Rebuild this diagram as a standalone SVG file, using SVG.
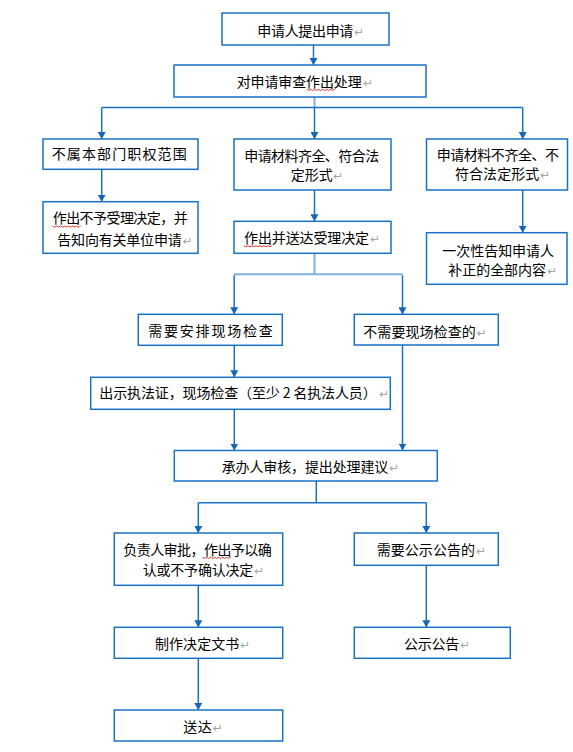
<svg xmlns="http://www.w3.org/2000/svg" width="573" height="752" viewBox="0 0 573 752">
<style>
.box{fill:#fff;stroke:#1a72c4;stroke-width:1.5}
.t{font-family:"Noto Sans CJK SC","Noto Sans CJK JP",sans-serif;font-size:14px;fill:#000}
.r{font-family:"DejaVu Sans",sans-serif;font-size:12px;fill:#a6a6a6}
.ln{fill:none;stroke:#1a72c4;stroke-width:1.5}
.lt{fill:none;stroke:#7fb1de;stroke-width:2}
.w{fill:none;stroke:#e0241b;stroke-width:0.9}
</style>
<defs>
<marker id="ah" viewBox="0 -4 7 8" refX="7" refY="0" markerWidth="7" markerHeight="8" markerUnits="userSpaceOnUse" orient="auto">
<path d="M0,-4 L7,0 L0,4 z" fill="#1565b8"/>
</marker>
</defs>
<rect width="573" height="752" fill="#fff"/>
<g id="connectors">
<path class="ln" d="M313.5,45 V65" marker-end="url(#ah)"/>
<path class="lt" d="M314.5,97 V107.5"/>
<path class="ln" d="M101.7,107.5 H522.7"/>
<path class="ln" d="M101.7,107.5 V139" marker-end="url(#ah)"/>
<path class="ln" d="M314.5,107.5 V139" marker-end="url(#ah)"/>
<path class="ln" d="M522.7,107.5 V139" marker-end="url(#ah)"/>
<path class="ln" d="M101.7,169.3 V201.7" marker-end="url(#ah)"/>
<path class="ln" d="M314.5,190 V221.3" marker-end="url(#ah)"/>
<path class="ln" d="M522.7,190 V232.7" marker-end="url(#ah)"/>
<path class="lt" d="M314.5,253.3 V274.3 M234,274.3 H402.7"/>
<path class="ln" d="M234.2,275.3 V314.3" marker-end="url(#ah)"/>
<path class="ln" d="M402.5,275.3 V314.3" marker-end="url(#ah)"/>
<path class="ln" d="M234.3,345.3 V377.3" marker-end="url(#ah)"/>
<path class="ln" d="M234.3,409.3 V450.5" marker-end="url(#ah)"/>
<path class="ln" d="M402.5,345 V450.5" marker-end="url(#ah)"/>
<path class="ln" d="M316.3,481 V502.7 M198.3,502.7 H426.3"/>
<path class="ln" d="M198.3,502.7 V533" marker-end="url(#ah)"/>
<path class="ln" d="M426.3,502.7 V533" marker-end="url(#ah)"/>
<path class="ln" d="M198.3,585.3 V627.3" marker-end="url(#ah)"/>
<path class="ln" d="M426.3,565.3 V627.3" marker-end="url(#ah)"/>
<path class="ln" d="M198.3,658.3 V710" marker-end="url(#ah)"/>
</g>
<g id="n1"><rect class="box" x="222" y="13" width="167" height="32"/><text class="t" x="257.3" y="35.7" textLength="96" lengthAdjust="spacing">申请人提出申请</text><text class="r" x="354" y="35.5">↵</text></g>
<g id="n2"><rect class="box" x="174" y="65" width="252" height="32"/><text class="t" x="236.7" y="86.7" textLength="125" lengthAdjust="spacing">对申请审查作出处理</text><text class="r" x="363" y="86.5">↵</text><path class="w" d="M306.7,89.3 l2,1.2 l2,-1.2 l2,1.2 l2,-1.2 l2,1.2 l2,-1.2 l2,1.2 l2,-1.2 l2,1.2 l2,-1.2 l2,1.2 l2,-1.2 l2,1.2 l2,-1.2"/></g>
<g id="n3"><rect class="box" x="43" y="139" width="155" height="30.3"/><text class="t" x="51.7" y="159.3" textLength="135" lengthAdjust="spacing">不属本部门职权范围</text></g>
<g id="n4"><rect class="box" x="234" y="139" width="157" height="51"/><text class="t" x="244.2" y="160.5" textLength="135" lengthAdjust="spacing">申请材料齐全、符合法</text><text class="t" x="290.7" y="179.5" textLength="42" lengthAdjust="spacing">定形式</text><text class="r" x="333" y="179.5">↵</text></g>
<g id="n5"><rect class="box" x="426.5" y="139" width="141" height="51"/><text class="t" x="436.7" y="160" textLength="122.3" lengthAdjust="spacing">申请材料不齐全、不</text><text class="t" x="455" y="179" textLength="84.3" lengthAdjust="spacing">符合法定形式</text><text class="r" x="540" y="179">↵</text></g>
<g id="n6"><rect class="box" x="43" y="201.7" width="155" height="51.6"/><text class="t" x="52.7" y="223.3" textLength="135" lengthAdjust="spacing">作出不予受理决定，并</text><text class="t" x="57.3" y="245" textLength="124.4" lengthAdjust="spacing">告知向有关单位申请</text><text class="r" x="182.5" y="245">↵</text><path class="w" d="M52.7,226 l2,1.2 l2,-1.2 l2,1.2 l2,-1.2 l2,1.2 l2,-1.2 l2,1.2 l2,-1.2 l2,1.2 l2,-1.2 l2,1.2 l2,-1.2 l2,1.2 l2,-1.2"/></g>
<g id="n7"><rect class="box" x="234" y="221.3" width="157" height="32"/><text class="t" x="244" y="243.3" textLength="125" lengthAdjust="spacing">作出并送达受理决定</text><text class="r" x="370" y="243.3">↵</text><path class="w" d="M244,245.7 l2,1.2 l2,-1.2 l2,1.2 l2,-1.2 l2,1.2 l2,-1.2 l2,1.2 l2,-1.2 l2,1.2 l2,-1.2 l2,1.2 l2,-1.2 l2,1.2 l2,-1.2"/></g>
<g id="n8"><rect class="box" x="426.5" y="232.7" width="140.5" height="51.6"/><text class="t" x="442.3" y="255.7" textLength="111.7" lengthAdjust="spacing">一次性告知申请人</text><text class="t" x="448.3" y="275" textLength="97.7" lengthAdjust="spacing">补正的全部内容</text><text class="r" x="547" y="275">↵</text></g>
<g id="n9"><rect class="box" x="138.3" y="314.3" width="144" height="31"/><text class="t" x="148.3" y="336" textLength="124.4" lengthAdjust="spacing">需要安排现场检查</text></g>
<g id="n10"><rect class="box" x="354.3" y="314.3" width="144" height="30.7"/><text class="t" x="363.3" y="336.7" textLength="112.4" lengthAdjust="spacing">不需要现场检查的</text><text class="r" x="476.5" y="336.5">↵</text></g>
<g id="n11"><rect class="box" x="90.7" y="377.3" width="299.6" height="32"/><text class="t" x="99.3" y="398.3" textLength="277.4" lengthAdjust="spacing">出示执法证，现场检查（至少 2 名执法人员）</text><text class="r" x="379" y="398.3">↵</text></g>
<g id="n12"><rect class="box" x="174.3" y="450.5" width="263" height="30.5"/><text class="t" x="221.7" y="471.7" textLength="166.6" lengthAdjust="spacing">承办人审核，提出处理建议</text><text class="r" x="389" y="471.7">↵</text></g>
<g id="n13"><rect class="box" x="114.3" y="533" width="168.4" height="52.3"/><text class="t" x="123.3" y="555" textLength="148.4" lengthAdjust="spacing">负责人审批，作出予以确</text><text class="t" x="142.7" y="575" textLength="110.6" lengthAdjust="spacing">认或不予确认决定</text><text class="r" x="254" y="575">↵</text><path class="w" d="M202.7,557.3 l2,1.2 l2,-1.2 l2,1.2 l2,-1.2 l2,1.2 l2,-1.2 l2,1.2 l2,-1.2 l2,1.2 l2,-1.2 l2,1.2 l2,-1.2 l2,1.2 l2,-1.2"/></g>
<g id="n14"><rect class="box" x="354.3" y="533" width="144" height="32.3"/><text class="t" x="376.7" y="555" textLength="98.3" lengthAdjust="spacing">需要公示公告的</text><text class="r" x="476" y="555">↵</text></g>
<g id="n15"><rect class="box" x="114.3" y="627.3" width="168.4" height="31"/><text class="t" x="155" y="649.3" textLength="84.3" lengthAdjust="spacing">制作决定文书</text><text class="r" x="240" y="649.3">↵</text></g>
<g id="n16"><rect class="box" x="354.3" y="627.3" width="156" height="31"/><text class="t" x="404" y="649.3" textLength="55.3" lengthAdjust="spacing">公示公告</text><text class="r" x="460" y="649.3">↵</text></g>
<g id="n17"><rect class="box" x="114.3" y="710" width="168.4" height="31"/><text class="t" x="183.3" y="731.7" textLength="28.4" lengthAdjust="spacing">送达</text><text class="r" x="212.5" y="731.7">↵</text></g>
</svg>
